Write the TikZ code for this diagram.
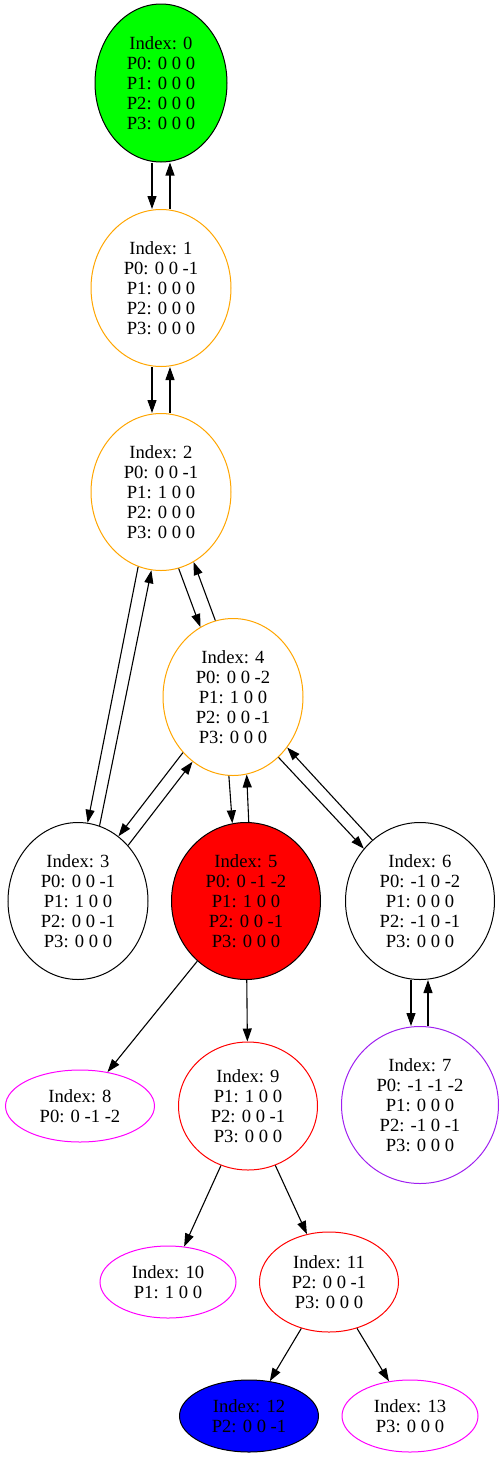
\documentclass[tikz,border=0pt]{standalone}
\usepackage{xcolor}
\usepackage{fontspec}
\setmainfont{Liberation Serif}
\usepackage{tikz}
\usetikzlibrary{shapes.geometric}
\usetikzlibrary{arrows.meta}
\definecolor{gvorange}{HTML}{FFA500}
\definecolor{gvpurple}{HTML}{A020F0}
\definecolor{gvmagenta}{HTML}{FF00FF}
\definecolor{gvgreen}{HTML}{00FF00}
\definecolor{gvred}{HTML}{FF0000}
\definecolor{gvblue}{HTML}{0000FF}

\begin{document}
\begin{tikzpicture}[x=1pt, y=-1pt,
  state/.style={ellipse, draw, line width=1pt, inner sep=0pt, align=center,
    font=\fontsize{18.6}{20}\selectfont},
  bignode/.style={state, minimum width=140pt, minimum height=157pt},
  smallnode/.style={state, minimum height=72pt},
  edge/.style={line width=1.1pt, -{Triangle[length=13pt, width=9pt]}}]
\useasboundingbox (0, 0) rectangle (503, 1457);
% states
\node[bignode, fill=gvgreen, minimum width=132pt, minimum height=158pt] (n0) at (161, 83) {Index: 0\\P0: 0 0 0\\P1: 0 0 0\\P2: 0 0 0\\P3: 0 0 0};
\node[bignode, draw=gvorange] (n1) at (161, 288) {Index: 1\\P0: 0 0 -1\\P1: 0 0 0\\P2: 0 0 0\\P3: 0 0 0};
\node[bignode, draw=gvorange] (n2) at (161, 492) {Index: 2\\P0: 0 0 -1\\P1: 1 0 0\\P2: 0 0 0\\P3: 0 0 0};
\node[bignode, draw=gvorange] (n4) at (233, 697) {Index: 4\\P0: 0 0 -2\\P1: 1 0 0\\P2: 0 0 -1\\P3: 0 0 0};
\node[bignode] (n3) at (78, 901) {Index: 3\\P0: 0 0 -1\\P1: 1 0 0\\P2: 0 0 -1\\P3: 0 0 0};
\node[bignode, fill=gvred, minimum width=149pt] (n5) at (246, 901) {Index: 5\\P0: 0 -1 -2\\P1: 1 0 0\\P2: 0 0 -1\\P3: 0 0 0};
\node[bignode, minimum width=149pt] (n6) at (420, 901) {Index: 6\\P0: -1 0 -2\\P1: 0 0 0\\P2: -1 0 -1\\P3: 0 0 0};
\node[bignode, draw=gvpurple, minimum width=157pt] (n7) at (420, 1105) {Index: 7\\P0: -1 -1 -2\\P1: 0 0 0\\P2: -1 0 -1\\P3: 0 0 0};
\node[smallnode, draw=gvmagenta, minimum width=149pt] (n8) at (80, 1106) {Index: 8\\P0: 0 -1 -2};
\node[state, draw=gvred, minimum width=139pt, minimum height=128pt] (n9) at (248, 1106) {Index: 9\\P1: 1 0 0\\P2: 0 0 -1\\P3: 0 0 0};
\node[smallnode, draw=gvmagenta, minimum width=136pt] (n10) at (168, 1282) {Index: 10\\P1: 1 0 0};
\node[state, draw=gvred, minimum width=139pt, minimum height=100pt] (n11) at (329, 1282) {Index: 11\\P2: 0 0 -1\\P3: 0 0 0};
\node[smallnode, fill=gvblue, minimum width=139pt] (n12) at (249, 1416) {Index: 12\\P2: 0 0 -1};
\node[smallnode, draw=gvmagenta, minimum width=136pt] (n13) at (410, 1416) {Index: 13\\P3: 0 0 0};
% transitions
\draw[edge] ([xshift=-9pt]n0.south) -- ([xshift=-9pt]n1.north);
\draw[edge] ([xshift=9pt]n1.north) -- ([xshift=9pt]n0.south);
\draw[edge] ([xshift=-9pt]n1.south) -- ([xshift=-9pt]n2.north);
\draw[edge] ([xshift=9pt]n2.north) -- ([xshift=9pt]n1.south);
\draw[edge] (n2.253) -- (n3.83);
\draw[edge] (n3.74) -- (n2.263);
\draw[edge] (n2.283) -- (n4.115);
\draw[edge] (n4.103) -- (n2.295);
\draw[edge] (n4.228) -- (n3.58);
\draw[edge] (n3.48) -- (n4.238);
\draw[edge] (n4.267) -- (n5.100);
\draw[edge] (n5.88) -- (n4.280);
\draw[edge] (n4.307) -- (n6.137);
\draw[edge] (n6.128) -- (n4.317);
\draw[edge] ([xshift=-9pt]n6.south) -- ([xshift=-9pt]n7.north);
\draw[edge] ([xshift=8pt]n7.north) -- ([xshift=8pt]n6.south);
\draw[edge] (n5) -- (n8);
\draw[edge] (n5) -- (n9);
\draw[edge] (n9) -- (n10);
\draw[edge] (n9) -- (n11);
\draw[edge] (n11) -- (n12);
\draw[edge] (n11) -- (n13);
\end{tikzpicture}
\end{document}
